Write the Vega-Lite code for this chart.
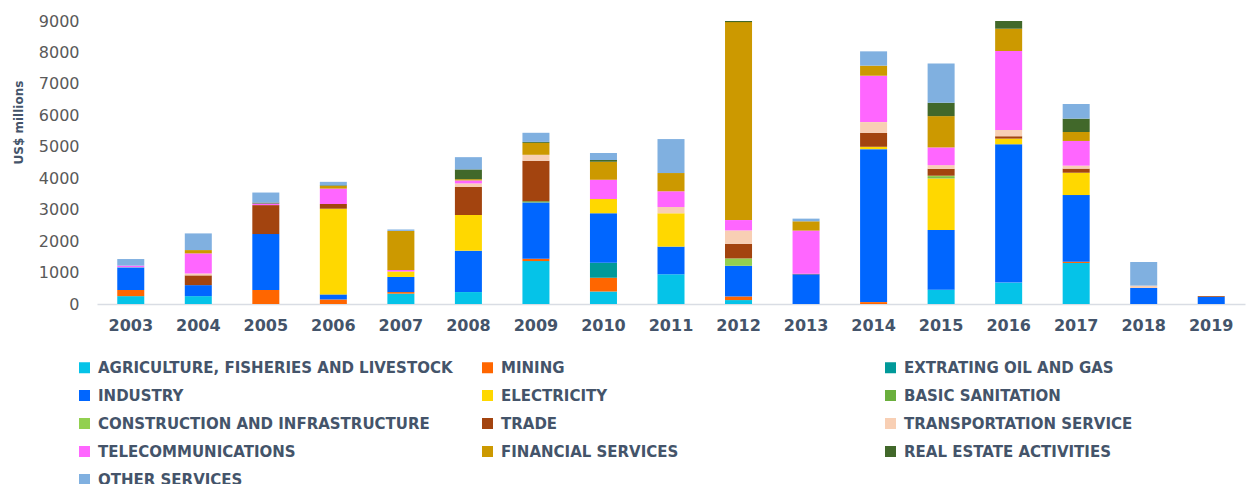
{
  "$schema": "https://vega.github.io/schema/vega-lite/v6.json",
  "autosize": {"type": "none"},
  "width": 1148,
  "height": 283,
  "padding": {"left": 97, "top": 21, "right": 1, "bottom": 180},
  "background": "white",
  "config": {"view": {"stroke": null}},
  "data": {
    "values": [
      {"year": "2003", "sector": "AGRICULTURE, FISHERIES AND LIVESTOCK", "v": 250},
      {"year": "2003", "sector": "MINING", "v": 195},
      {"year": "2003", "sector": "INDUSTRY", "v": 720},
      {"year": "2003", "sector": "TRANSPORTATION SERVICE", "v": 10},
      {"year": "2003", "sector": "TELECOMMUNICATIONS", "v": 45},
      {"year": "2003", "sector": "OTHER SERVICES", "v": 210},

      {"year": "2004", "sector": "AGRICULTURE, FISHERIES AND LIVESTOCK", "v": 250},
      {"year": "2004", "sector": "INDUSTRY", "v": 350},
      {"year": "2004", "sector": "TRADE", "v": 310},
      {"year": "2004", "sector": "TRANSPORTATION SERVICE", "v": 60},
      {"year": "2004", "sector": "TELECOMMUNICATIONS", "v": 640},
      {"year": "2004", "sector": "FINANCIAL SERVICES", "v": 105},
      {"year": "2004", "sector": "OTHER SERVICES", "v": 530},

      {"year": "2005", "sector": "MINING", "v": 445},
      {"year": "2005", "sector": "INDUSTRY", "v": 1780},
      {"year": "2005", "sector": "TRADE", "v": 920},
      {"year": "2005", "sector": "TELECOMMUNICATIONS", "v": 50},
      {"year": "2005", "sector": "REAL ESTATE ACTIVITIES", "v": 30},
      {"year": "2005", "sector": "OTHER SERVICES", "v": 320},

      {"year": "2006", "sector": "MINING", "v": 145},
      {"year": "2006", "sector": "INDUSTRY", "v": 160},
      {"year": "2006", "sector": "ELECTRICITY", "v": 2725},
      {"year": "2006", "sector": "TRADE", "v": 150},
      {"year": "2006", "sector": "TELECOMMUNICATIONS", "v": 490},
      {"year": "2006", "sector": "FINANCIAL SERVICES", "v": 85},
      {"year": "2006", "sector": "REAL ESTATE ACTIVITIES", "v": 20},
      {"year": "2006", "sector": "OTHER SERVICES", "v": 110},

      {"year": "2007", "sector": "AGRICULTURE, FISHERIES AND LIVESTOCK", "v": 330},
      {"year": "2007", "sector": "MINING", "v": 50},
      {"year": "2007", "sector": "INDUSTRY", "v": 480},
      {"year": "2007", "sector": "ELECTRICITY", "v": 175},
      {"year": "2007", "sector": "TELECOMMUNICATIONS", "v": 50},
      {"year": "2007", "sector": "FINANCIAL SERVICES", "v": 1240},
      {"year": "2007", "sector": "OTHER SERVICES", "v": 45},

      {"year": "2008", "sector": "AGRICULTURE, FISHERIES AND LIVESTOCK", "v": 380},
      {"year": "2008", "sector": "INDUSTRY", "v": 1315},
      {"year": "2008", "sector": "ELECTRICITY", "v": 1135},
      {"year": "2008", "sector": "TRADE", "v": 890},
      {"year": "2008", "sector": "TRANSPORTATION SERVICE", "v": 115},
      {"year": "2008", "sector": "TELECOMMUNICATIONS", "v": 95},
      {"year": "2008", "sector": "FINANCIAL SERVICES", "v": 40},
      {"year": "2008", "sector": "REAL ESTATE ACTIVITIES", "v": 310},
      {"year": "2008", "sector": "OTHER SERVICES", "v": 390},

      {"year": "2009", "sector": "AGRICULTURE, FISHERIES AND LIVESTOCK", "v": 1365},
      {"year": "2009", "sector": "MINING", "v": 75},
      {"year": "2009", "sector": "INDUSTRY", "v": 1790},
      {"year": "2009", "sector": "BASIC SANITATION", "v": 40},
      {"year": "2009", "sector": "TRADE", "v": 1285},
      {"year": "2009", "sector": "TRANSPORTATION SERVICE", "v": 190},
      {"year": "2009", "sector": "FINANCIAL SERVICES", "v": 380},
      {"year": "2009", "sector": "REAL ESTATE ACTIVITIES", "v": 30},
      {"year": "2009", "sector": "OTHER SERVICES", "v": 290},

      {"year": "2010", "sector": "AGRICULTURE, FISHERIES AND LIVESTOCK", "v": 400},
      {"year": "2010", "sector": "MINING", "v": 435},
      {"year": "2010", "sector": "EXTRATING OIL AND GAS", "v": 480},
      {"year": "2010", "sector": "INDUSTRY", "v": 1570},
      {"year": "2010", "sector": "ELECTRICITY", "v": 455},
      {"year": "2010", "sector": "TELECOMMUNICATIONS", "v": 615},
      {"year": "2010", "sector": "FINANCIAL SERVICES", "v": 570},
      {"year": "2010", "sector": "REAL ESTATE ACTIVITIES", "v": 55},
      {"year": "2010", "sector": "OTHER SERVICES", "v": 220},

      {"year": "2011", "sector": "AGRICULTURE, FISHERIES AND LIVESTOCK", "v": 945},
      {"year": "2011", "sector": "INDUSTRY", "v": 880},
      {"year": "2011", "sector": "ELECTRICITY", "v": 1060},
      {"year": "2011", "sector": "TRANSPORTATION SERVICE", "v": 200},
      {"year": "2011", "sector": "TELECOMMUNICATIONS", "v": 500},
      {"year": "2011", "sector": "FINANCIAL SERVICES", "v": 580},
      {"year": "2011", "sector": "OTHER SERVICES", "v": 1080},

      {"year": "2012", "sector": "AGRICULTURE, FISHERIES AND LIVESTOCK", "v": 125},
      {"year": "2012", "sector": "MINING", "v": 115},
      {"year": "2012", "sector": "INDUSTRY", "v": 975},
      {"year": "2012", "sector": "CONSTRUCTION AND INFRASTRUCTURE", "v": 235},
      {"year": "2012", "sector": "TRADE", "v": 465},
      {"year": "2012", "sector": "TRANSPORTATION SERVICE", "v": 425},
      {"year": "2012", "sector": "TELECOMMUNICATIONS", "v": 330},
      {"year": "2012", "sector": "FINANCIAL SERVICES", "v": 6295},
      {"year": "2012", "sector": "REAL ESTATE ACTIVITIES", "v": 35},

      {"year": "2013", "sector": "INDUSTRY", "v": 945},
      {"year": "2013", "sector": "TRADE", "v": 15},
      {"year": "2013", "sector": "TELECOMMUNICATIONS", "v": 1375},
      {"year": "2013", "sector": "FINANCIAL SERVICES", "v": 295},
      {"year": "2013", "sector": "OTHER SERVICES", "v": 85},

      {"year": "2014", "sector": "MINING", "v": 60},
      {"year": "2014", "sector": "INDUSTRY", "v": 4865},
      {"year": "2014", "sector": "ELECTRICITY", "v": 75},
      {"year": "2014", "sector": "TRADE", "v": 445},
      {"year": "2014", "sector": "TRANSPORTATION SERVICE", "v": 340},
      {"year": "2014", "sector": "TELECOMMUNICATIONS", "v": 1475},
      {"year": "2014", "sector": "FINANCIAL SERVICES", "v": 320},
      {"year": "2014", "sector": "OTHER SERVICES", "v": 455},

      {"year": "2015", "sector": "AGRICULTURE, FISHERIES AND LIVESTOCK", "v": 455},
      {"year": "2015", "sector": "INDUSTRY", "v": 1900},
      {"year": "2015", "sector": "ELECTRICITY", "v": 1640},
      {"year": "2015", "sector": "BASIC SANITATION", "v": 40},
      {"year": "2015", "sector": "CONSTRUCTION AND INFRASTRUCTURE", "v": 45},
      {"year": "2015", "sector": "TRADE", "v": 220},
      {"year": "2015", "sector": "TRANSPORTATION SERVICE", "v": 115},
      {"year": "2015", "sector": "TELECOMMUNICATIONS", "v": 565},
      {"year": "2015", "sector": "FINANCIAL SERVICES", "v": 995},
      {"year": "2015", "sector": "REAL ESTATE ACTIVITIES", "v": 425},
      {"year": "2015", "sector": "OTHER SERVICES", "v": 1250},

      {"year": "2016", "sector": "AGRICULTURE, FISHERIES AND LIVESTOCK", "v": 680},
      {"year": "2016", "sector": "INDUSTRY", "v": 4400},
      {"year": "2016", "sector": "ELECTRICITY", "v": 180},
      {"year": "2016", "sector": "TRADE", "v": 75},
      {"year": "2016", "sector": "TRANSPORTATION SERVICE", "v": 200},
      {"year": "2016", "sector": "TELECOMMUNICATIONS", "v": 2510},
      {"year": "2016", "sector": "FINANCIAL SERVICES", "v": 710},
      {"year": "2016", "sector": "REAL ESTATE ACTIVITIES", "v": 245},

      {"year": "2017", "sector": "AGRICULTURE, FISHERIES AND LIVESTOCK", "v": 1305},
      {"year": "2017", "sector": "MINING", "v": 40},
      {"year": "2017", "sector": "INDUSTRY", "v": 2120},
      {"year": "2017", "sector": "ELECTRICITY", "v": 710},
      {"year": "2017", "sector": "TRADE", "v": 130},
      {"year": "2017", "sector": "TRANSPORTATION SERVICE", "v": 95},
      {"year": "2017", "sector": "TELECOMMUNICATIONS", "v": 785},
      {"year": "2017", "sector": "FINANCIAL SERVICES", "v": 285},
      {"year": "2017", "sector": "REAL ESTATE ACTIVITIES", "v": 425},
      {"year": "2017", "sector": "OTHER SERVICES", "v": 465},

      {"year": "2018", "sector": "INDUSTRY", "v": 510},
      {"year": "2018", "sector": "TRANSPORTATION SERVICE", "v": 75},
      {"year": "2018", "sector": "OTHER SERVICES", "v": 750},

      {"year": "2019", "sector": "INDUSTRY", "v": 225},
      {"year": "2019", "sector": "TRADE", "v": 25}
    ]
  },
  "transform": [
    {
      "calculate": "indexof(['AGRICULTURE, FISHERIES AND LIVESTOCK', 'MINING', 'EXTRATING OIL AND GAS', 'INDUSTRY', 'ELECTRICITY', 'BASIC SANITATION', 'CONSTRUCTION AND INFRASTRUCTURE', 'TRADE', 'TRANSPORTATION SERVICE', 'TELECOMMUNICATIONS', 'FINANCIAL SERVICES', 'REAL ESTATE ACTIVITIES', 'OTHER SERVICES'], datum.sector)",
      "as": "stackRank"
    }
  ],
  "mark": {"type": "bar"},
  "encoding": {
    "x": {
      "field": "year",
      "type": "ordinal",
      "scale": {"paddingInner": 0.6, "paddingOuter": 0.3},
      "axis": {
        "title": null,
        "labelAngle": 0,
        "ticks": false,
        "domainColor": "#d9dde4",
        "domainWidth": 1.5,
        "labelFont": "DejaVu Sans",
        "labelFontWeight": "bold",
        "labelFontSize": 16,
        "labelColor": "#44546a",
        "labelPadding": 13
      }
    },
    "y": {
      "field": "v",
      "type": "quantitative",
      "aggregate": "sum",
      "stack": "zero",
      "scale": {"domain": [0, 9000], "nice": false},
      "axis": {
        "title": "US$ millions",
        "titleFont": "DejaVu Sans",
        "titleFontWeight": "bold",
        "titleFontSize": 12,
        "titleColor": "#44546a",
        "titleX": -79,
        "titleY": 101,
        "titleAngle": -90,
        "titleBaseline": "middle",
        "titleAlign": "center",
        "values": [0, 1000, 2000, 3000, 4000, 5000, 6000, 7000, 8000, 9000],
        "format": "d",
        "grid": false,
        "domain": false,
        "ticks": false,
        "labelFont": "DejaVu Sans",
        "labelFontSize": 16,
        "labelColor": "#595959",
        "labelPadding": 18
      }
    },
    "order": {"field": "stackRank", "type": "quantitative", "sort": "ascending"},
    "color": {
      "field": "sector",
      "type": "nominal",
      "scale": {
        "domain": [
          "AGRICULTURE, FISHERIES AND LIVESTOCK", "MINING", "EXTRATING OIL AND GAS",
          "INDUSTRY", "ELECTRICITY", "BASIC SANITATION",
          "CONSTRUCTION AND INFRASTRUCTURE", "TRADE", "TRANSPORTATION SERVICE",
          "TELECOMMUNICATIONS", "FINANCIAL SERVICES", "REAL ESTATE ACTIVITIES",
          "OTHER SERVICES"
        ],
        "range": [
          "#05c3e8", "#ff6600", "#009999",
          "#0066ff", "#ffd800", "#6aaf3d",
          "#92d050", "#a3440f", "#f8cfb4",
          "#ff66ff", "#cc9900", "#41682a",
          "#80b0e0"
        ]
      },
      "legend": {
        "title": null,
        "orient": "none",
        "direction": "horizontal",
        "legendX": -20,
        "legendY": 339,
        "columns": 3,
        "gridAlign": "all",
        "padding": 0,
        "columnPadding": 27,
        "rowPadding": 12,
        "symbolType": "square",
        "symbolSize": 121,
        "symbolStrokeWidth": 0,
        "labelOffset": 6,
        "labelFont": "DejaVu Sans",
        "labelFontWeight": "bold",
        "labelFontSize": 15,
        "labelColor": "#44546a",
        "labelLimit": 600
      }
    }
  }
}
